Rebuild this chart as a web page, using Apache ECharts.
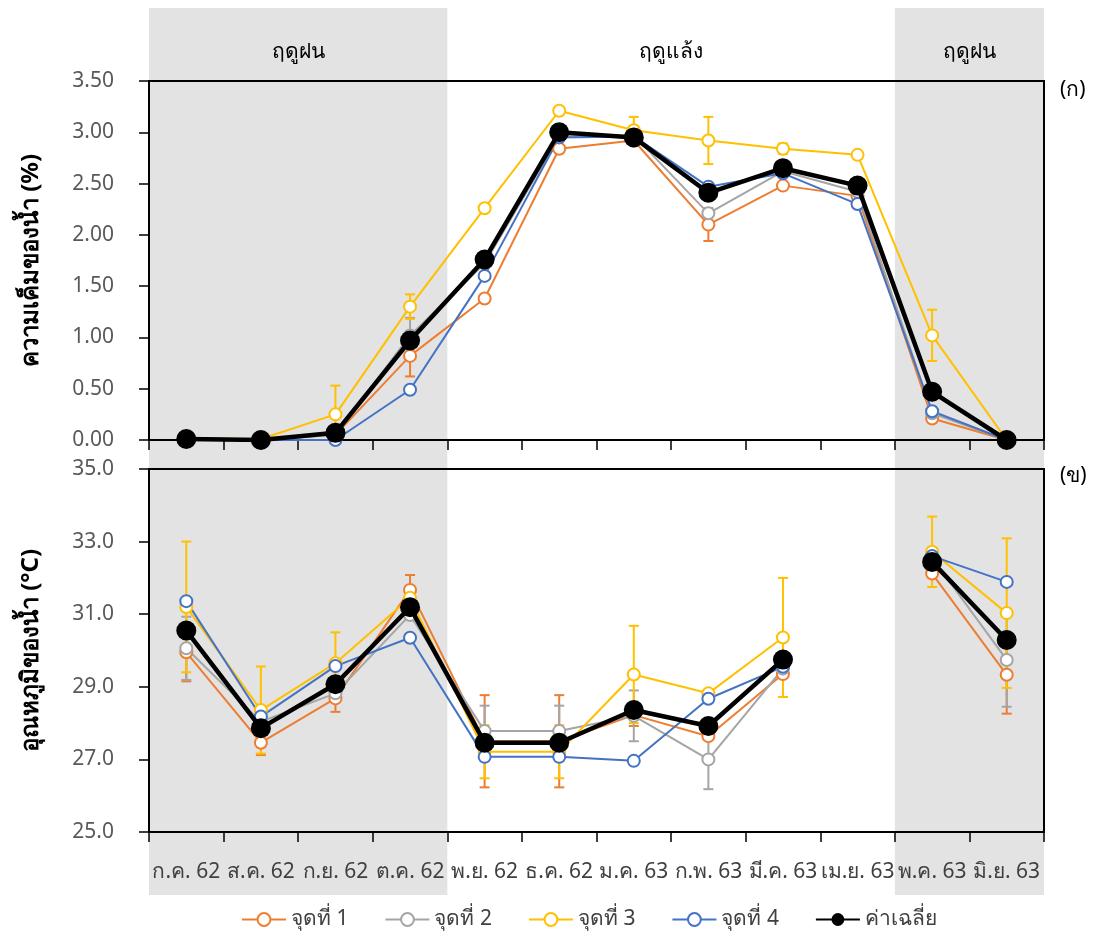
<!DOCTYPE html>
<html>
<head>
<meta charset="utf-8">
<script src="https://cdn.jsdelivr.net/npm/echarts@6/dist/echarts.min.js"></script>
<style>
  html, body { margin: 0; padding: 0; background: #fff; }
  #chart { width: 1100px; height: 942px; }
</style>
</head>
<body>
<div id="chart"></div>
<script>
// Months of the sampling period
const months = ['ก.ค. 62', 'ส.ค. 62', 'ก.ย. 62', 'ต.ค. 62', 'พ.ย. 62', 'ธ.ค. 62',
                'ม.ค. 63', 'ก.พ. 63', 'มี.ค. 63', 'เม.ย. 63', 'พ.ค. 63', 'มิ.ย. 63'];
const stationNames = ['จุดที่ 1', 'จุดที่ 2', 'จุดที่ 3', 'จุดที่ 4', 'ค่าเฉลี่ย'];
const stationColors = ['#ED7D31', '#A5A5A5', '#FFC000', '#4472C4', '#000000'];

// Seasons (start / end month index on a 0..12 scale)
const seasonNames = ['ฤดูฝน', 'ฤดูแล้ง', 'ฤดูฝน'];
const seasonStart = [0, 4, 10];
const seasonEnd = [4, 10, 12];
const seasonShaded = [true, false, true];

// (ก) Salinity (%)
const salt1 = [0.02, 0.00, 0.05, 0.82, 1.38, 2.84, 2.92, 2.10, 2.48, 2.38, 0.21, 0.00];
const salt2 = [0.02, 0.00, 0.05, 1.02, 1.72, 2.96, 2.97, 2.21, 2.62, 2.42, 0.26, 0.00];
const salt3 = [0.02, 0.01, 0.25, 1.30, 2.26, 3.21, 3.02, 2.92, 2.84, 2.78, 1.02, 0.00];
const salt4 = [0.02, 0.00, 0.00, 0.49, 1.60, 2.95, 2.96, 2.47, 2.60, 2.30, 0.28, 0.00];
const saltAvg = [0.01, 0.00, 0.07, 0.97, 1.76, 3.00, 2.95, 2.41, 2.65, 2.48, 0.47, 0.00];
const saltSd1 = [null, null, null, 0.20, null, null, null, 0.16, null, null, null, null];
const saltSd2 = [null, null, null, 0.17, 0.11, null, null, null, null, null, null, null];
const saltSd3 = [null, null, 0.28, 0.12, null, null, 0.13, 0.23, 0.05, null, 0.25, null];
const saltSd4 = [null, null, null, null, null, null, null, null, null, null, null, null];

// (ข) Water temperature (°C)
const temp1 = [29.95, 27.46, 28.68, 31.67, 27.50, 27.50, 28.22, 27.64, 29.35, null, 32.12, 29.33];
const temp2 = [30.06, 28.04, 28.82, 30.98, 27.78, 27.78, 28.20, 27.00, 29.50, null, 32.55, 29.74];
const temp3 = [31.20, 28.36, 29.65, 31.45, 27.21, 27.21, 29.34, 28.82, 30.36, null, 32.72, 31.03];
const temp4 = [31.36, 28.18, 29.57, 30.35, 27.07, 27.07, 26.96, 28.67, 29.55, null, 32.60, 31.89];
const tempAvg = [30.55, 27.86, 29.07, 31.19, 27.46, 27.46, 28.36, 27.92, 29.75, null, 32.44, 30.29];
const tempSd1 = [0.80, 0.34, 0.37, 0.41, 1.27, 1.27, 0.30, null, null, null, null, 1.07];
const tempSd2 = [0.87, null, null, null, 0.70, 0.70, 0.70, 0.82, null, null, null, 1.29];
const tempSd3 = [1.80, 1.20, 0.85, null, 0.73, 0.73, 1.34, null, 1.64, null, 0.97, 2.06];
const tempSd4 = [null, null, null, null, null, null, null, null, null, null, null, null];

// Axis ticks
const saltMin = 0, saltMax = 3.5, saltStep = 0.5;
const tempMin = 25, tempMax = 35, tempStep = 2;

const FONT = '"Noto Sans", "DejaVu Sans", sans-serif';

function lineSeries(idx, values, axisIdx) {
  const isAvg = idx === 4;
  return {
    type: 'line',
    name: stationNames[idx],
    xAxisIndex: axisIdx,
    yAxisIndex: axisIdx,
    data: values,
    symbol: isAvg ? 'circle' : 'emptyCircle',
    symbolSize: isAvg ? 20 : 12,
    z: isAvg ? 6 : 4,
    lineStyle: { color: stationColors[idx], width: isAvg ? 4.5 : 2 },
    itemStyle: { color: stationColors[idx], borderWidth: isAvg ? 0 : 1.6 },
    emphasis: { disabled: true },
    animation: false
  };
}

function errorSeries(idx, values, sds, axisIdx) {
  const data = [];
  values.forEach((v, i) => {
    if (v != null && sds[i] != null) data.push([i, v - sds[i], v + sds[i]]);
  });
  const color = stationColors[idx];
  return {
    type: 'custom',
    xAxisIndex: axisIdx,
    yAxisIndex: axisIdx,
    data: data,
    encode: { x: 0, y: [1, 2] },
    clip: true,
    z: 3,
    silent: true,
    animation: false,
    renderItem: function (params, api) {
      const x = api.value(0);
      const lo = api.coord([x, api.value(1)]);
      const hi = api.coord([x, api.value(2)]);
      const w = 5;
      const st = { stroke: color, lineWidth: 2 };
      return {
        type: 'group',
        children: [
          { type: 'line', shape: { x1: hi[0], y1: hi[1], x2: lo[0], y2: lo[1] }, style: st },
          { type: 'line', shape: { x1: hi[0] - w, y1: hi[1], x2: hi[0] + w, y2: hi[1] }, style: st },
          { type: 'line', shape: { x1: lo[0] - w, y1: lo[1], x2: lo[0] + w, y2: lo[1] }, style: st }
        ]
      };
    }
  };
}

const saltSets = [salt1, salt2, salt3, salt4, saltAvg];
const saltSds = [saltSd1, saltSd2, saltSd3, saltSd4];
const tempSets = [temp1, temp2, temp3, temp4, tempAvg];
const tempSds = [tempSd1, tempSd2, tempSd3, tempSd4];

const series = [];
// season shading behind both panels
series.push({
  type: 'line',
  xAxisIndex: 2,
  yAxisIndex: 2,
  data: [],
  silent: true,
  z: 0,
  markArea: {
    silent: true,
    z: 0,
    label: {
      show: true,
      position: 'insideTop',
      distance: 34,
      fontFamily: FONT,
      fontSize: 21,
      color: '#000'
    },
    data: seasonNames.map((n, i) => [
      { name: n, xAxis: seasonStart[i], itemStyle: { color: seasonShaded[i] ? '#E3E3E3' : 'rgba(0,0,0,0)' } },
      { xAxis: seasonEnd[i] }
    ])
  }
});
for (let i = 0; i < 4; i++) series.push(errorSeries(i, saltSets[i], saltSds[i], 0));
for (let i = 0; i < 4; i++) series.push(errorSeries(i, tempSets[i], tempSds[i], 1));
for (let i = 0; i < 5; i++) series.push(lineSeries(i, saltSets[i], 0));
for (let i = 0; i < 5; i++) series.push(lineSeries(i, tempSets[i], 1));

const axisLineStyle = { color: '#000', width: 2 };
const yLabel = { fontSize: 21, color: '#595959', margin: 35, fontFamily: FONT };
const yName = { fontSize: 24, fontWeight: 'bold', color: '#000', fontFamily: FONT };

const option = {
  backgroundColor: '#fff',
  animation: false,
  textStyle: { fontFamily: FONT },
  grid: [
    { left: 149, width: 895, top: 81, height: 359, show: true, borderColor: '#000', borderWidth: 2, backgroundColor: 'transparent', z: 2 },
    { left: 149, width: 895, top: 469, height: 363, show: true, borderColor: '#000', borderWidth: 2, backgroundColor: 'transparent', z: 2 },
    { left: 149, width: 895, top: 8, height: 887, show: false }
  ],
  xAxis: [
    {
      type: 'category', gridIndex: 0, data: months, boundaryGap: true,
      axisLine: { lineStyle: axisLineStyle },
      axisTick: { show: true, length: 10, lineStyle: { color: '#000', width: 1.5 } },
      axisLabel: { show: false },
      splitLine: { show: false }
    },
    {
      type: 'category', gridIndex: 1, data: months, boundaryGap: true,
      axisLine: { lineStyle: axisLineStyle },
      axisTick: { show: true, length: 10, lineStyle: { color: '#000', width: 1.5 } },
      axisLabel: { show: true, interval: 0, fontSize: 21, color: '#404040', margin: 30, fontFamily: FONT },
      splitLine: { show: false }
    },
    { type: 'value', gridIndex: 2, min: 0, max: 12, show: false }
  ],
  yAxis: [
    {
      type: 'value', gridIndex: 0, min: saltMin, max: saltMax, interval: saltStep,
      name: 'ความเค็มของน้ำ (%)', nameLocation: 'middle', nameGap: 106, nameRotate: 90,
      nameTextStyle: yName,
      axisLine: { show: true, lineStyle: axisLineStyle },
      axisTick: { show: true, length: 10, lineStyle: { color: '#000', width: 1.5 } },
      axisLabel: Object.assign({ formatter: v => v.toFixed(2) }, yLabel),
      splitLine: { show: false }
    },
    {
      type: 'value', gridIndex: 1, min: tempMin, max: tempMax, interval: tempStep,
      name: 'อุณหภูมิของน้ำ (°C)', nameLocation: 'middle', nameGap: 106, nameRotate: 90,
      nameTextStyle: yName,
      axisLine: { show: true, lineStyle: axisLineStyle },
      axisTick: { show: true, length: 10, lineStyle: { color: '#000', width: 1.5 } },
      axisLabel: Object.assign({ formatter: v => v.toFixed(1) }, yLabel),
      splitLine: { show: false }
    },
    { type: 'value', gridIndex: 2, min: 0, max: 1, show: false }
  ],
  legend: {
    data: stationNames,
    top: 904,
    left: 236,
    itemWidth: 44,
    itemHeight: 16,
    itemGap: 36,
    textStyle: { fontSize: 21, color: '#404040', fontFamily: FONT },
    selectedMode: false
  },
  graphic: [
    { type: 'text', left: 1060, top: 80, style: { text: '(ก)', fontSize: 21, fill: '#000', fontFamily: FONT } },
    { type: 'text', left: 1060, top: 466, style: { text: '(ข)', fontSize: 21, fill: '#000', fontFamily: FONT } }
  ],
  series: series
};

const chart = echarts.init(document.getElementById('chart'), null, { renderer: 'canvas' });
chart.setOption(option);
</script>
</body>
</html>
